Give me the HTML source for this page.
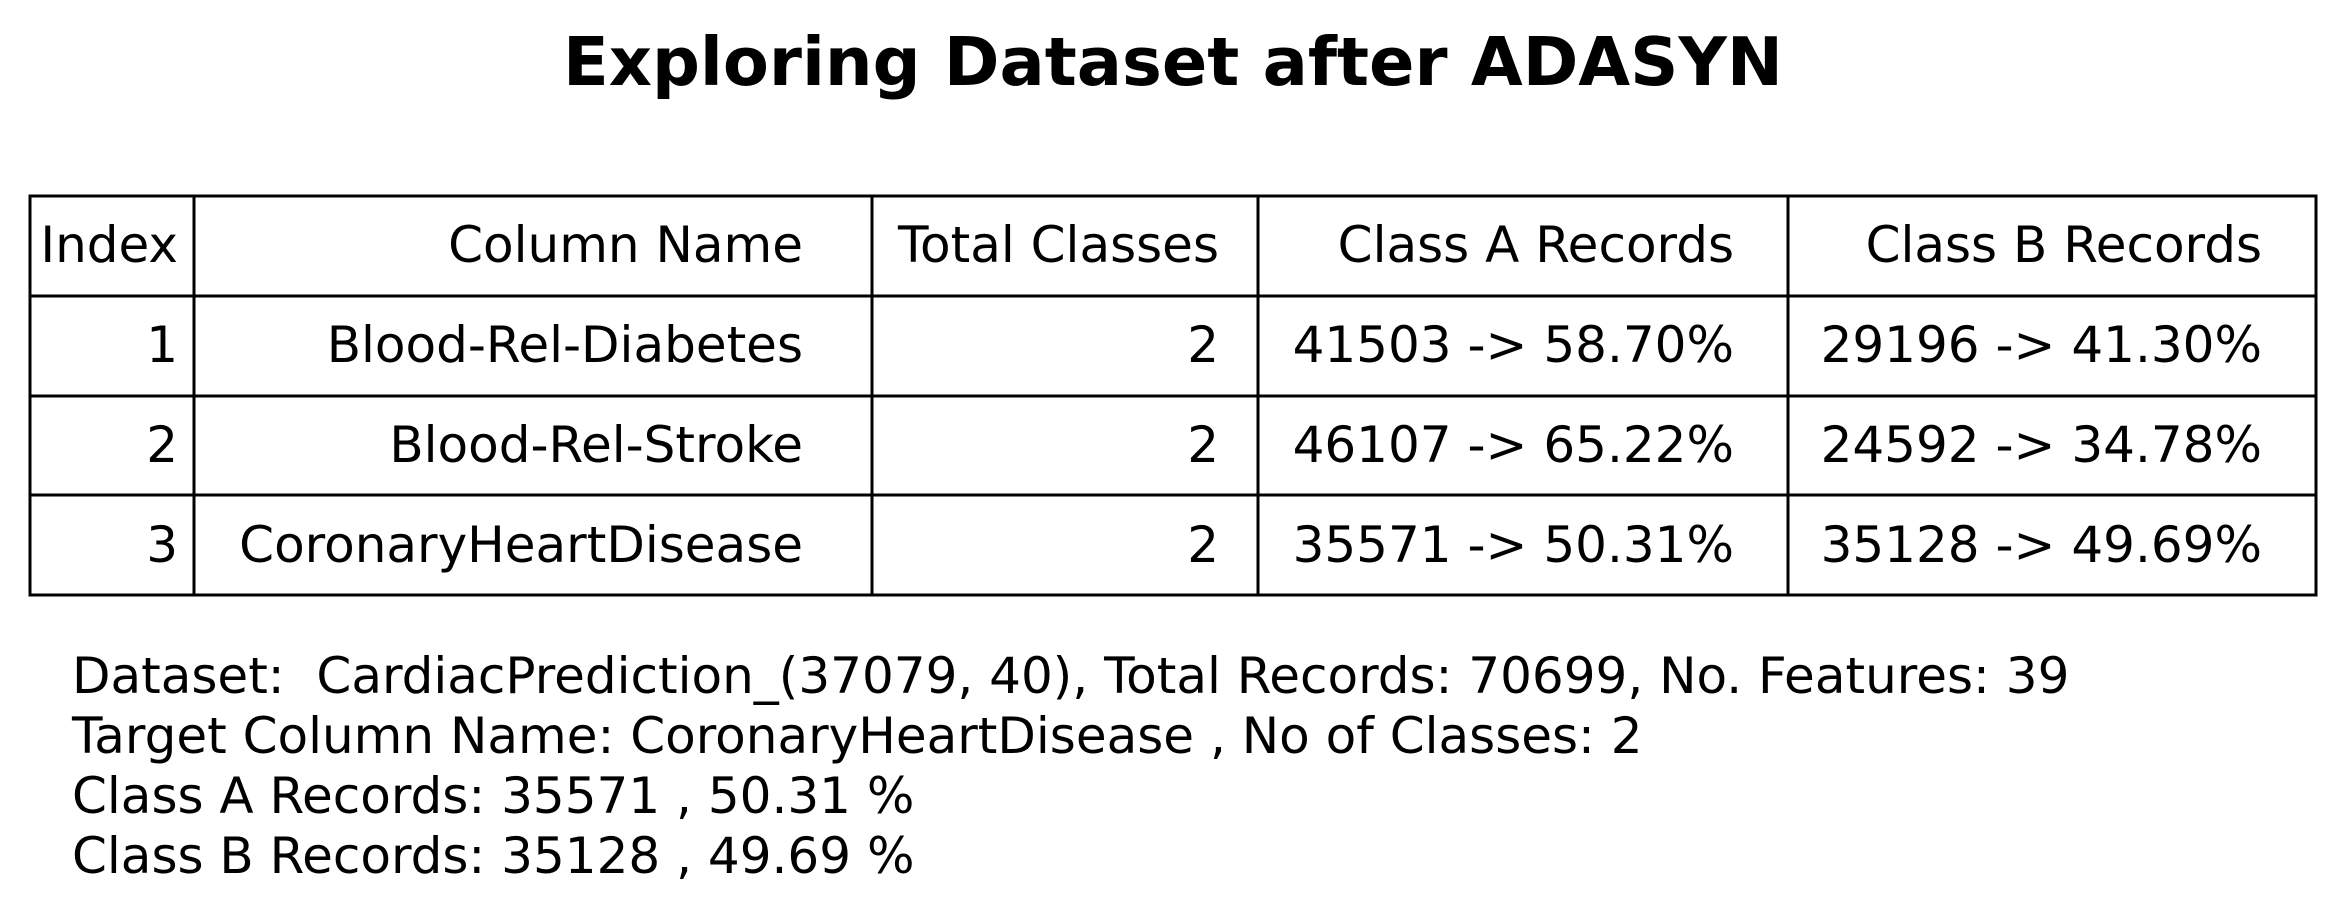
<!DOCTYPE html>
<html><head><meta charset="utf-8"><style>
html,body{margin:0;padding:0;background:#fff;}
svg{display:block;font-family:"DejaVu Sans","Liberation Sans",sans-serif;}
</style></head><body>
<svg width="2346" height="912" viewBox="0 0 2346 912">
<text x="1173" y="62" text-anchor="middle" dominant-baseline="central" font-size="67" font-weight="bold">Exploring Dataset after ADASYN</text>
<g id="tbl" stroke="#000" stroke-width="3" fill="none">
<rect x="30" y="196" width="2286" height="399"/>
<line x1="30" y1="296" x2="2316" y2="296"/>
<line x1="30" y1="396" x2="2316" y2="396"/>
<line x1="30" y1="495" x2="2316" y2="495"/>
<line x1="194" y1="196" x2="194" y2="595"/>
<line x1="872" y1="196" x2="872" y2="595"/>
<line x1="1258" y1="196" x2="1258" y2="595"/>
<line x1="1788" y1="196" x2="1788" y2="595"/>
</g>
<g font-size="50" fill="#000" text-anchor="end" dominant-baseline="central">
<g>
<text x="178" y="245">Index</text><text x="803" y="245">Column Name</text><text x="1219" y="245">Total Classes</text><text x="1734" y="245">Class A Records</text><text x="2262" y="245">Class B Records</text>
</g>
<g>
<text x="178" y="345">1</text><text x="803" y="345">Blood-Rel-Diabetes</text><text x="1219" y="345">2</text><text x="1734" y="345">41503 -&gt; 58.70%</text><text x="2262" y="345">29196 -&gt; 41.30%</text>
</g>
<g>
<text x="178" y="445">2</text><text x="803" y="445">Blood-Rel-Stroke</text><text x="1219" y="445">2</text><text x="1734" y="445">46107 -&gt; 65.22%</text><text x="2262" y="445">24592 -&gt; 34.78%</text>
</g>
<g>
<text x="178" y="545">3</text><text x="803" y="545">CoronaryHeartDisease</text><text x="1219" y="545">2</text><text x="1734" y="545">35571 -&gt; 50.31%</text><text x="2262" y="545">35128 -&gt; 49.69%</text>
</g>
</g>
<g font-size="50" fill="#000" dominant-baseline="central">
<text x="72" y="676" xml:space="preserve">Dataset:  CardiacPrediction_(37079, 40), Total Records: 70699, No. Features: 39</text>
<text x="72" y="736">Target Column Name: CoronaryHeartDisease , No of Classes: 2</text>
<text x="72" y="796">Class A Records: 35571 , 50.31 %</text>
<text x="72" y="856">Class B Records: 35128 , 49.69 %</text>
</g>
</svg>
</body></html>
